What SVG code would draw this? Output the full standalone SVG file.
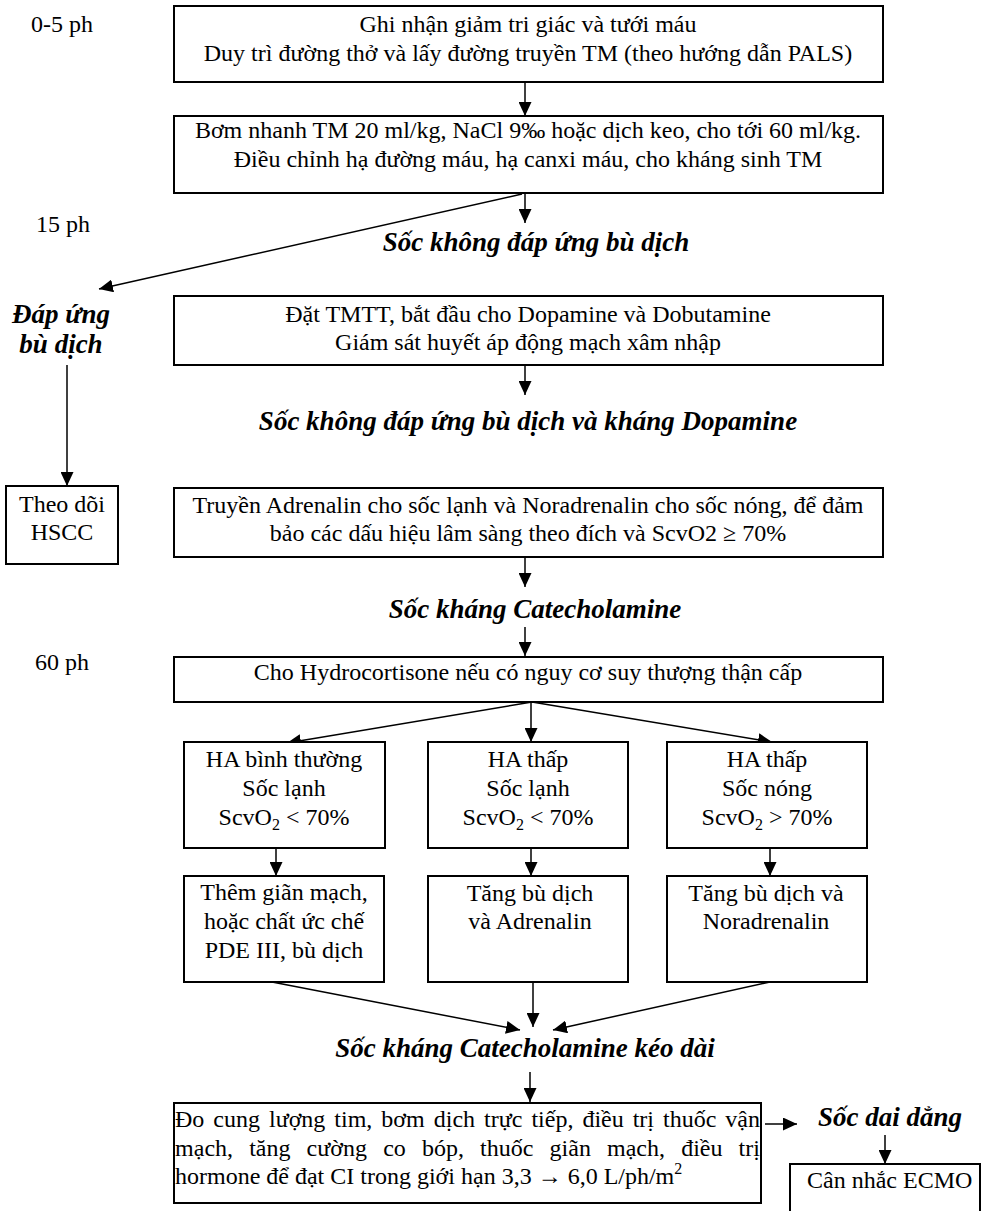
<svg xmlns="http://www.w3.org/2000/svg" width="982" height="1211" viewBox="0 0 982 1211">
<defs>
<style>
.bx{fill:#fff;stroke:#000;stroke-width:2}
.t{font-family:"Liberation Serif","Times New Roman",serif;font-size:24px;fill:#000}
.c{text-anchor:middle}
.bi{font-family:"Liberation Serif","Times New Roman",serif;font-size:27px;font-weight:bold;font-style:italic;fill:#000;text-anchor:middle}
.ln{stroke:#000;stroke-width:1.5;fill:none;marker-end:url(#ah)}
.sub{font-size:16px}
</style>
<marker id="ah" markerUnits="userSpaceOnUse" markerWidth="14" markerHeight="13" refX="14" refY="6.5" orient="auto">
<path d="M0,0 L14,6.5 L0,13 z" fill="#000"/>
</marker>
</defs>
<rect width="982" height="1211" fill="#fff"/>

<g id="time-labels">
<text class="t" x="31" y="32">0-5 ph</text>
<text class="t" x="36" y="232">15 ph</text>
<text class="t" x="35" y="670">60 ph</text>
</g>

<g id="connectors">
<line class="ln" x1="525" y1="82" x2="525" y2="116"/>
<line class="ln" x1="525" y1="193" x2="525" y2="223"/>
<line class="ln" x1="522" y1="194" x2="99" y2="289"/>
<line class="ln" x1="67" y1="365" x2="67" y2="486"/>
<line class="ln" x1="525" y1="365" x2="525" y2="395"/>
<line class="ln" x1="525" y1="557" x2="525" y2="587"/>
<line class="ln" x1="525" y1="627" x2="525" y2="656"/>
<line class="ln" x1="532" y1="702" x2="287" y2="743"/>
<line class="ln" x1="531" y1="702" x2="531" y2="742"/>
<line class="ln" x1="532" y1="702" x2="772" y2="742"/>
<line class="ln" x1="276" y1="848" x2="276" y2="876"/>
<line class="ln" x1="531" y1="848" x2="531" y2="876"/>
<line class="ln" x1="770" y1="848" x2="770" y2="876"/>
<line class="ln" x1="272" y1="982" x2="520" y2="1030"/>
<line class="ln" x1="533" y1="982" x2="533" y2="1027"/>
<line class="ln" x1="770" y1="982" x2="553" y2="1030"/>
<line class="ln" x1="530" y1="1072" x2="530" y2="1102"/>
<line class="ln" x1="765" y1="1124" x2="797" y2="1124"/>
<line class="ln" x1="885" y1="1135" x2="885" y2="1164"/>
</g>

<g id="n1">
<rect class="bx" x="174" y="6" width="709" height="76"/>
<text class="t c" x="528" y="32">Ghi nhận giảm tri giác và tưới máu</text>
<text class="t c" x="528" y="61">Duy trì đường thở và lấy đường truyền TM (theo hướng dẫn PALS)</text>
</g>

<g id="n2">
<rect class="bx" x="174" y="116" width="709" height="77"/>
<text class="t c" x="528" y="138">Bơm nhanh TM 20 ml/kg, NaCl 9‰ hoặc dịch keo, cho tới 60 ml/kg.</text>
<text class="t c" x="528" y="167">Điều chỉnh hạ đường máu, hạ canxi máu, cho kháng sinh TM</text>
</g>

<g id="l1"><text class="bi" x="536" y="251">Sốc không đáp ứng bù dịch</text></g>

<g id="l2">
<text class="bi" x="61" y="323">Đáp ứng</text>
<text class="bi" x="61" y="353">bù dịch</text>
</g>

<g id="n3">
<rect class="bx" x="174" y="296" width="709" height="69"/>
<text class="t c" x="528" y="322">Đặt TMTT, bắt đầu cho Dopamine và Dobutamine</text>
<text class="t c" x="528" y="350">Giám sát huyết áp động mạch xâm nhập</text>
</g>

<g id="l3"><text class="bi" x="528" y="430">Sốc không đáp ứng bù dịch và kháng Dopamine</text></g>

<g id="n-hscc">
<rect class="bx" x="6" y="486" width="112" height="78"/>
<text class="t c" x="62" y="512">Theo dõi</text>
<text class="t c" x="62" y="540">HSCC</text>
</g>

<g id="n4">
<rect class="bx" x="174" y="488" width="709" height="69"/>
<text class="t c" x="528" y="513">Truyền Adrenalin cho sốc lạnh và Noradrenalin cho sốc nóng, để đảm</text>
<text class="t c" x="528" y="541">bảo các dấu hiệu lâm sàng theo đích và ScvO2 ≥ 70%</text>
</g>

<g id="l4"><text class="bi" x="535" y="618">Sốc kháng Catecholamine</text></g>

<g id="n5">
<rect class="bx" x="174" y="657" width="709" height="45"/>
<text class="t c" x="528" y="680">Cho Hydrocortisone nếu có nguy cơ suy thượng thận cấp</text>
</g>

<g id="n6a">
<rect class="bx" x="184" y="742" width="201" height="106"/>
<text class="t c" x="284" y="767">HA bình thường</text>
<text class="t c" x="284" y="796">Sốc lạnh</text>
<text class="t c" x="284" y="825">ScvO<tspan class="sub" dy="5">2</tspan><tspan dy="-5"> &lt; 70%</tspan></text>
</g>

<g id="n6b">
<rect class="bx" x="428" y="742" width="200" height="106"/>
<text class="t c" x="528" y="767">HA thấp</text>
<text class="t c" x="528" y="796">Sốc lạnh</text>
<text class="t c" x="528" y="825">ScvO<tspan class="sub" dy="5">2</tspan><tspan dy="-5"> &lt; 70%</tspan></text>
</g>

<g id="n6c">
<rect class="bx" x="667" y="742" width="200" height="106"/>
<text class="t c" x="767" y="767">HA thấp</text>
<text class="t c" x="767" y="796">Sốc nóng</text>
<text class="t c" x="767" y="825">ScvO<tspan class="sub" dy="5">2</tspan><tspan dy="-5"> &gt; 70%</tspan></text>
</g>

<g id="n7a">
<rect class="bx" x="184" y="876" width="200" height="106"/>
<text class="t c" x="284" y="900">Thêm giãn mạch,</text>
<text class="t c" x="284" y="929">hoặc chất ức chế</text>
<text class="t c" x="284" y="958">PDE III, bù dịch</text>
</g>

<g id="n7b">
<rect class="bx" x="428" y="876" width="200" height="106"/>
<text class="t c" x="530" y="901">Tăng bù dịch</text>
<text class="t c" x="530" y="929">và Adrenalin</text>
</g>

<g id="n7c">
<rect class="bx" x="667" y="876" width="200" height="106"/>
<text class="t c" x="766" y="901">Tăng bù dịch và</text>
<text class="t c" x="766" y="929">Noradrenalin</text>
</g>

<g id="l5"><text class="bi" x="525" y="1057">Sốc kháng Catecholamine kéo dài</text></g>

<g id="n8">
<rect class="bx" x="174" y="1103" width="587" height="100"/>
<text class="t" x="175" y="1127" word-spacing="3" textLength="585" lengthAdjust="spacing">Đo cung lượng tim, bơm dịch trực tiếp, điều trị thuốc vận</text>
<text class="t" x="175" y="1156" word-spacing="10" textLength="585" lengthAdjust="spacing">mạch, tăng cường co bóp, thuốc giãn mạch, điều trị</text>
<text class="t" x="175" y="1184">hormone để đạt CI trong giới hạn 3,3 <tspan font-weight="bold">→</tspan> 6,0 L/ph/m<tspan class="sub" dy="-10">2</tspan></text>
</g>

<g id="l6"><text class="bi" x="890" y="1126">Sốc dai dẳng</text></g>

<g id="n9">
<rect class="bx" x="790" y="1164" width="190" height="60"/>
<text class="t" x="807" y="1188">Cân nhắc ECMO</text>
</g>
</svg>
